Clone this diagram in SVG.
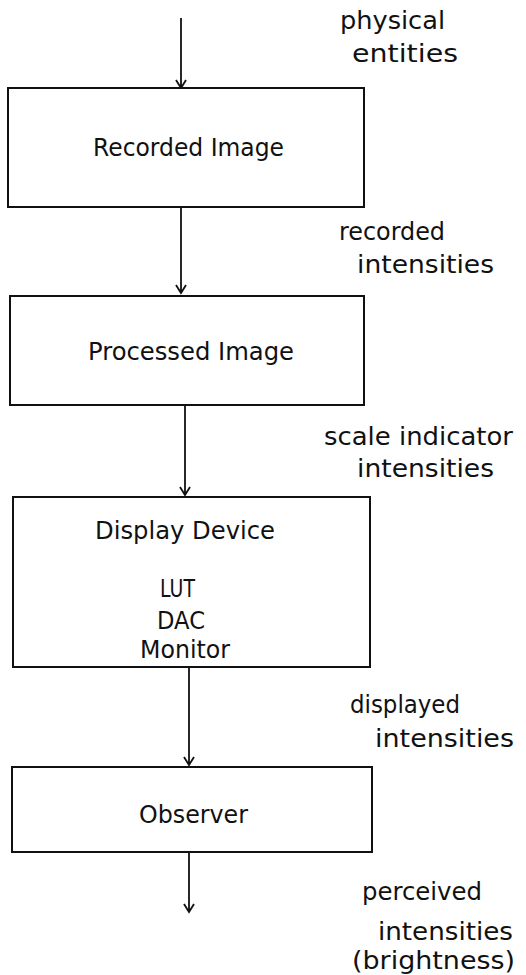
<svg xmlns="http://www.w3.org/2000/svg" width="526" height="975" viewBox="0 0 526 975">
<style>
.box{fill:#fff;stroke:#111;stroke-width:2}
.ln{stroke:#111;stroke-width:1.8;fill:none}
text{font-family:"DejaVu Sans","Liberation Sans",sans-serif;font-size:24px;fill:#111}
</style>
<rect width="526" height="975" fill="#fff"/>
<g id="connectors">
<path class="ln" d="M181 18 V88 M176 80 L181 88 L186 80"/>
<path class="ln" d="M181 207 V293 M176 285 L181 293 L186 285"/>
<path class="ln" d="M185 405 V495 M180 487 L185 495 L190 487"/>
<path class="ln" d="M189 667 V765 M184 757 L189 765 L194 757"/>
<path class="ln" d="M189 852 V912 M184 904 L189 912 L194 904"/>
</g>
<g id="labels">
<text x="340" y="29" textLength="105" lengthAdjust="spacingAndGlyphs">physical</text>
<text x="352" y="62" textLength="106" lengthAdjust="spacingAndGlyphs">entities</text>
<text x="339" y="240" textLength="106" lengthAdjust="spacingAndGlyphs">recorded</text>
<text x="357" y="273" textLength="137" lengthAdjust="spacingAndGlyphs">intensities</text>
<text x="324" y="445" textLength="189" lengthAdjust="spacingAndGlyphs">scale indicator</text>
<text x="357" y="477" textLength="137" lengthAdjust="spacingAndGlyphs">intensities</text>
<text x="350" y="713" textLength="110" lengthAdjust="spacingAndGlyphs">displayed</text>
<text x="375" y="747" textLength="139" lengthAdjust="spacingAndGlyphs">intensities</text>
<text x="362" y="900" textLength="120" lengthAdjust="spacingAndGlyphs">perceived</text>
<text x="378" y="940" textLength="135" lengthAdjust="spacingAndGlyphs">intensities</text>
<text x="352" y="969" textLength="163" lengthAdjust="spacingAndGlyphs">(brightness)</text>
</g>
<g id="recorded-image">
<rect class="box" x="8" y="88" width="356" height="119"/>
<text x="93" y="156" textLength="191" lengthAdjust="spacingAndGlyphs">Recorded Image</text>
</g>
<g id="processed-image">
<rect class="box" x="10" y="296" width="354" height="109"/>
<text x="88" y="360" textLength="206" lengthAdjust="spacingAndGlyphs">Processed Image</text>
</g>
<g id="display-device">
<rect class="box" x="13" y="497" width="357" height="170"/>
<text x="95" y="539" textLength="180" lengthAdjust="spacingAndGlyphs">Display Device</text>
<text x="160" y="597" textLength="35" lengthAdjust="spacingAndGlyphs">LUT</text>
<text x="157" y="629" textLength="48" lengthAdjust="spacingAndGlyphs">DAC</text>
<text x="140" y="658" textLength="90" lengthAdjust="spacingAndGlyphs">Monitor</text>
</g>
<g id="observer">
<rect class="box" x="12" y="767" width="360" height="85"/>
<text x="139" y="823" textLength="109" lengthAdjust="spacingAndGlyphs">Observer</text>
</g>
</svg>
